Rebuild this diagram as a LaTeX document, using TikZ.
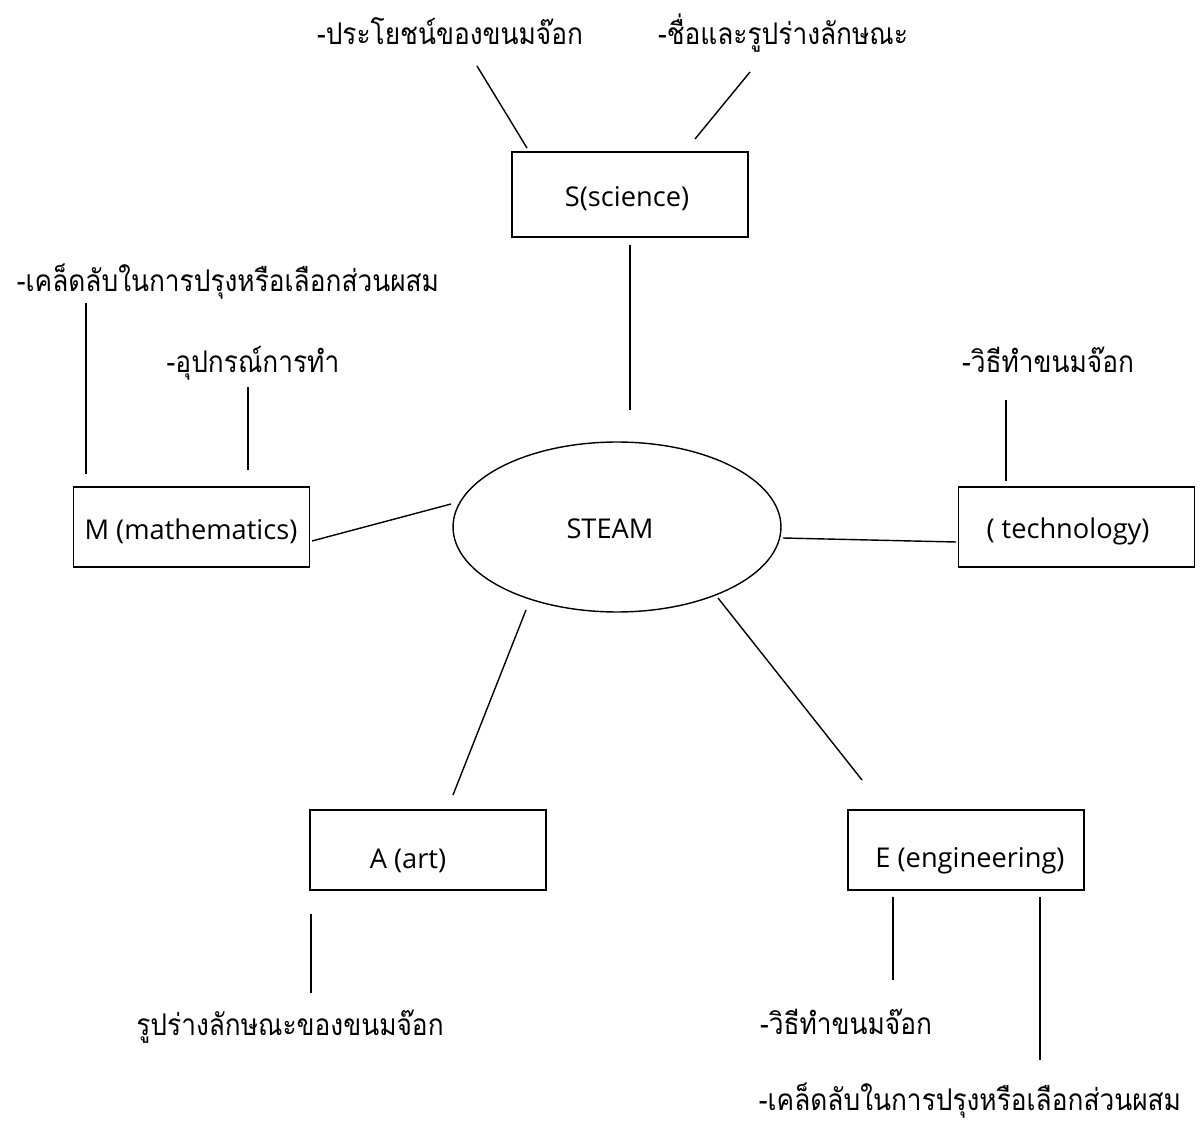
\documentclass[tikz,border=0pt]{standalone}
\usepackage{fontspec}
\setmainfont{Open Sans}
\newfontfamily\thaifont[Script=Thai,FakeStretch=0.88]{Loma}
\usetikzlibrary{shapes.geometric}
\usetikzlibrary{positioning}

\tikzset{
  topic/.style={draw,line width=0.8pt,minimum width=4.72cm,minimum height=1.6cm,inner sep=0pt},
  hub/.style={draw,ellipse,line width=0.8pt,minimum width=6.56cm,minimum height=3.4cm,inner sep=0pt},
  note/.style={anchor=base,inner sep=0pt,font=\thaifont\fontsize{17}{20}\selectfont},
  link/.style={line width=0.8pt}
}

\begin{document}
\begin{tikzpicture}[x=0.02cm,y=-0.02cm,font=\fontsize{15.5}{18}\selectfont]
\useasboundingbox (0,0) rectangle (1200,1128);

% centre
\node[hub] (steam) at (617,527) {};
\node at (610,529) {STEAM};

% boxes
\node[topic,minimum height=1.7cm] (sci) at (630,194.5) {};
\node at (627,199) {S(science)};
\node[topic] (math) at (191.5,527) {};
\node at (191,531) {M (mathematics)};
\node[topic] (tech) at (1076.5,527) {};
\node at (1068,531) {( technology)};
\node[topic] (art) at (428,850) {};
\node at (408,861) {A (art)};
\node[topic] (eng) at (966,850) {};
\node at (970,861) {E (engineering)};

% notes
\node[note] (sci1) at (450,45) {-ประโยชน์ของขนมจ๊อก};
\node[note] (sci2) at (783,45) {-ชื่อและรูปร่างลักษณะ};
\node[note] (math1) at (228,292) {-เคล็ดลับในการปรุงหรือเลือกส่วนผสม};
\node[note] (math2) at (253,373) {-อุปกรณ์การทำ};
\node[note] (tech1) at (1048,373) {-วิธีทำขนมจ๊อก};
\node[note] (art1) at (290,1035) {รูปร่างลักษณะของขนมจ๊อก};
\node[note] (eng1) at (846,1034) {-วิธีทำขนมจ๊อก};
\node[note] (eng2) at (970,1110) {-เคล็ดลับในการปรุงหรือเลือกส่วนผสม};

% line ends
\coordinate (a1) at (477,66);   \coordinate (a2) at (527,148);
\coordinate (b1) at (750,72);   \coordinate (b2) at (695,139);
\coordinate (c1) at (630,245);  \coordinate (c2) at (630,410);
\coordinate (d1) at (312,541);  \coordinate (d2) at (451,504);
\coordinate (e1) at (86,303);   \coordinate (e2) at (86,474);
\coordinate (f1) at (248,387);  \coordinate (f2) at (248,470);
\coordinate (g1) at (783,538);  \coordinate (g2) at (956,542);
\coordinate (h1) at (1006,400); \coordinate (h2) at (1006,481);
\coordinate (i1) at (526,610);  \coordinate (i2) at (453,795);
\coordinate (j1) at (718,598);  \coordinate (j2) at (862,780);
\coordinate (k1) at (311,914);  \coordinate (k2) at (311,993);
\coordinate (l1) at (893,897);  \coordinate (l2) at (893,980);
\coordinate (m1) at (1040,897); \coordinate (m2) at (1040,1060);

\foreach \s in {a,b,c,d,e,f,g,h,i,j,k,l,m}
  \draw[link] (\s1) -- (\s2);
\end{tikzpicture}
\end{document}
